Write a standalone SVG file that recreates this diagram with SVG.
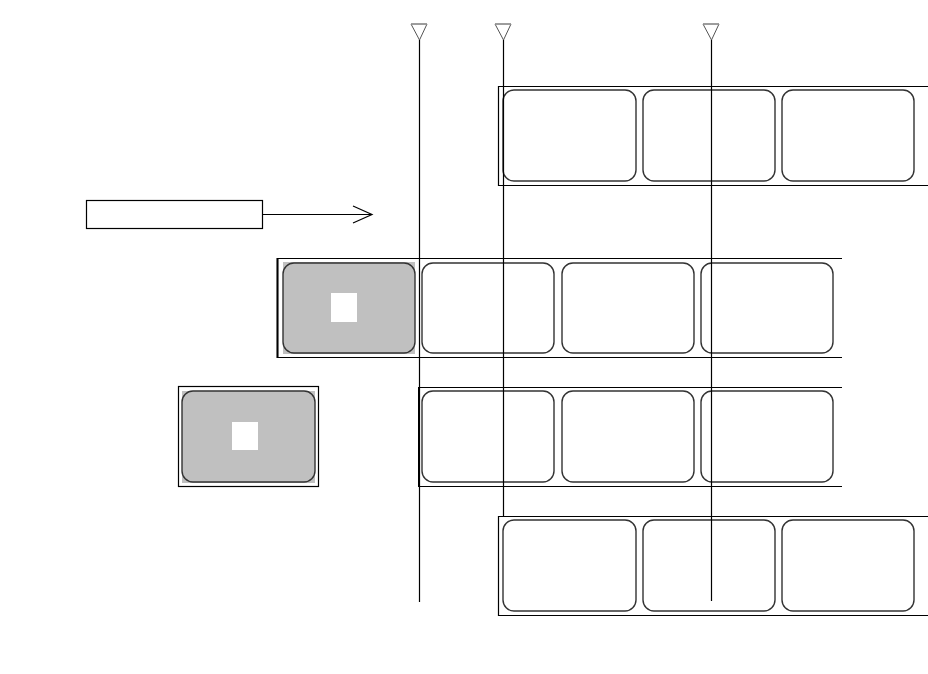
<svg xmlns="http://www.w3.org/2000/svg" width="928" height="674" viewBox="0 0 928 674">
<style>
.band{fill:none;stroke:#000;stroke-width:1.2}
.box{fill:#fff;stroke:#333;stroke-width:1.4}
.gbg{fill:#c0c0c0}
.gbox{fill:#c0c0c0;stroke:#333;stroke-width:1.4}
.hole{fill:#fff}
.vl{stroke:#000;stroke-width:1.2;fill:none}
.tri{fill:#fff;stroke:#555;stroke-width:1}
.trit{stroke:#999;stroke-width:1.5}
</style>
<rect width="928" height="674" fill="#fff"/>
<g id="row1">
<path class="band" d="M928,86.5 H498.5 V185.5 H928"/>
<rect class="box" x="503" y="90" width="133" height="91" rx="11"/>
<rect class="box" x="643" y="90" width="132" height="91" rx="11"/>
<rect class="box" x="782" y="90" width="132" height="91" rx="11"/>
</g>
<g id="source">
<rect x="86.5" y="200.5" width="176" height="28" fill="#fff" stroke="#000" stroke-width="1.2"/>
</g>
<g id="row2">
<path class="band" d="M842,258.5 H277.5 V357.5 H842"/>
<line x1="277.5" y1="258" x2="277.5" y2="358" stroke="#000" stroke-width="2"/>
<rect class="gbg" x="283" y="262" width="132" height="92"/>
<rect class="gbox" x="283" y="263" width="132" height="90" rx="11"/>
<rect class="hole" x="331" y="293" width="26" height="29"/>
<rect class="box" x="422" y="263" width="132" height="90" rx="11"/>
<rect class="box" x="562" y="263" width="132" height="90" rx="11"/>
<rect class="box" x="701" y="263" width="132" height="90" rx="11"/>
</g>
<g id="single">
<rect x="178.5" y="386.5" width="140" height="100" fill="#fff" stroke="#000" stroke-width="1.2"/>
<rect class="gbg" x="182" y="391" width="133" height="92"/>
<rect class="gbox" x="182" y="391" width="133" height="91" rx="11"/>
<rect class="hole" x="232" y="422" width="26" height="28"/>
</g>
<g id="row3">
<path class="band" d="M842,387.5 H419 V486.5 H842"/>
<line x1="419" y1="387" x2="419" y2="487" stroke="#000" stroke-width="2"/>
<rect class="box" x="422" y="391" width="132" height="91" rx="11"/>
<rect class="box" x="562" y="391" width="132" height="91" rx="11"/>
<rect class="box" x="701" y="391" width="132" height="91" rx="11"/>
</g>
<g id="row4">
<path class="band" d="M928,516.5 H498.5 V615.5 H928"/>
<rect class="box" x="503" y="520" width="133" height="91" rx="11"/>
<rect class="box" x="643" y="520" width="132" height="91" rx="11"/>
<rect class="box" x="782" y="520" width="132" height="91" rx="11"/>
</g>
<g id="markers">
<path class="tri" d="M411,24 L427,24 L419.5,40 Z"/>
<line class="trit" x1="411" y1="24" x2="427" y2="24"/>
<path class="tri" d="M495,24 L511,24 L503.5,40 Z"/>
<line class="trit" x1="495" y1="24" x2="511" y2="24"/>
<path class="tri" d="M703,24 L719,24 L711.5,40 Z"/>
<line class="trit" x1="703" y1="24" x2="719" y2="24"/>
</g>
<g id="connectors">
<line class="vl" x1="419.5" y1="40" x2="419.5" y2="602"/>
<line class="vl" x1="503.5" y1="40" x2="503.5" y2="516"/>
<line class="vl" x1="711.5" y1="40" x2="711.5" y2="601"/>
<line class="vl" x1="262" y1="214.5" x2="372" y2="214.5"/>
<path class="vl" d="M353,206 L372,214.5 L353,223"/>
</g>
</svg>
